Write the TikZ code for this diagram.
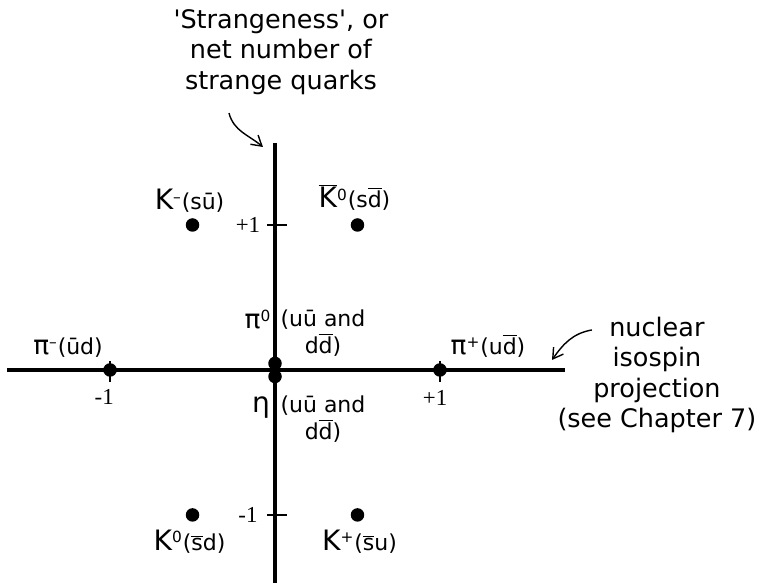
\documentclass[tikz,border=0pt]{standalone}
\usepackage{fontspec}
\setmainfont{DejaVu Sans}
\newfontfamily\numfont{Liberation Serif}
\usetikzlibrary{arrows.meta, positioning}
\newcommand{\qbar}[1]{$\overline{\mbox{#1}}$}
\newcommand{\bigK}{{\fontsize{16}{18}\selectfont K}}
\newcommand{\bigpi}{{\fontsize{15}{18}\selectfont π}}
\tikzset{
    meson dot/.style={circle, fill=black, inner sep=0pt, minimum size=0.27cm},
    meson label/.style={inner sep=1pt, font=\fontsize{12.5}{16}\selectfont},
    quark mix/.style={inner sep=1pt, align=center, font=\fontsize{12.5}{15.3}\selectfont},
    axis line/.style={line width=2pt},
    tick mark/.style={line width=1.4pt},
    tick label/.style={inner sep=1pt, font=\numfont\fontsize{13}{15}\selectfont},
    note text/.style={align=center, inner sep=0pt, font=\fontsize{14.5}{17.2}\selectfont},
    note arrow/.style={-{Straight Barb[length=2mm, width=2.4mm]}, line width=0.8pt},
}

\begin{document}
\begin{tikzpicture}[x=3.3cm, y=2.9cm]
    \useasboundingbox (-1.667,-1.469) rectangle (2.952,2.552);
    % axes: isospin across, strangeness up
    \coordinate (xleft) at (-1.624,0);
    \coordinate (xright) at (1.758,0);
    \coordinate (ytop) at (0,1.566);
    \coordinate (ybottom) at (0,-1.469);
    \draw[axis line] (xleft) -- (xright);
    \draw[axis line] (ytop) -- (ybottom);
    \draw[tick mark] (-0.048,1) -- (0.073,1);
    \draw[tick mark] (-0.048,-1) -- (0.073,-1);
    \draw[tick mark] (-1,0.062) -- (-1,-0.083);
    \draw[tick mark] (1,0.062) -- (1,-0.083);
    \node[tick label] (splus) at (-0.164,1) {+1};
    \node[tick label] (sminus) at (-0.164,-1) {-1};
    \node[tick label] (iminus) at (-1.035,-0.185) {-1};
    \node[tick label] (iplus) at (0.97,-0.19) {+1};

    % the meson nonet
    \node[meson dot] (kminus) at (-0.5,1) {};
    \node[meson dot] (kzerobar) at (0.5,1) {};
    \node[meson dot] (piminus) at (-1,0) {};
    \node[meson dot] (pizero) at (0,0.045) {};
    \node[meson dot] (eta) at (0,-0.045) {};
    \node[meson dot] (piplus) at (1,0) {};
    \node[meson dot] (kzero) at (-0.5,-1) {};
    \node[meson dot] (kplus) at (0.5,-1) {};

    \node[meson label, above=0.06cm of kminus, xshift=-0.06cm] (kminuslab) {\bigK\textsuperscript{--}(sū)};
    \node[meson label, above=0.1cm of kzerobar, xshift=-0.06cm] (kzerobarlab) {\qbar{\bigK}\textsuperscript{0}(s\qbar{d})};
    \node[meson label, above=0.06cm of piminus, xshift=-0.84cm] (piminuslab) {\bigpi\textsuperscript{--}(ūd)};
    \node[meson label, above=0.06cm of piplus, xshift=0.96cm] (pipluslab) {\bigpi\textsuperscript{+}(u\qbar{d})};
    \node[meson label, above=0.5cm of pizero, xshift=-0.34cm] (pizerolab) {\bigpi\textsuperscript{0}};
    \node[quark mix, above=-0.04cm of pizero, xshift=0.96cm] (pizeromix) {(uū and\\d\qbar{d})};
    \node[meson label, below=0.22cm of eta, xshift=-0.28cm, font=\fontsize{16}{18}\selectfont] (etalab) {η};
    \node[quark mix, below=0.2cm of eta, xshift=0.96cm] (etamix) {(uū and\\d\qbar{d})};
    \node[meson label, below=0.12cm of kzero, xshift=-0.06cm] (kzerolab) {\bigK\textsuperscript{0}(\qbar{s}d)};
    \node[meson label, below=0.12cm of kplus, xshift=0.04cm] (kpluslab) {\bigK\textsuperscript{+}(\qbar{s}u)};

    % notes on the axes
    \node[note text] (strangeness) at (0.036,2.193) {\textquotesingle Strangeness\textquotesingle, or\\net number of\\strange quarks};
    \coordinate (strangetail) at (-0.279,1.772);
    \coordinate (strangehead) at (-0.073,1.538);
    \draw[note arrow] (strangetail) to[out=-75, in=140] (strangehead);
    \node[note text] (isospin) at (2.315,-0.034) {nuclear\\isospin\\projection\\(see Chapter 7)};
    \coordinate (isotail) at (1.921,0.276);
    \coordinate (isohead) at (1.679,0.069);
    \draw[note arrow] (isotail) to[out=190, in=55] (isohead);
\end{tikzpicture}
\end{document}
